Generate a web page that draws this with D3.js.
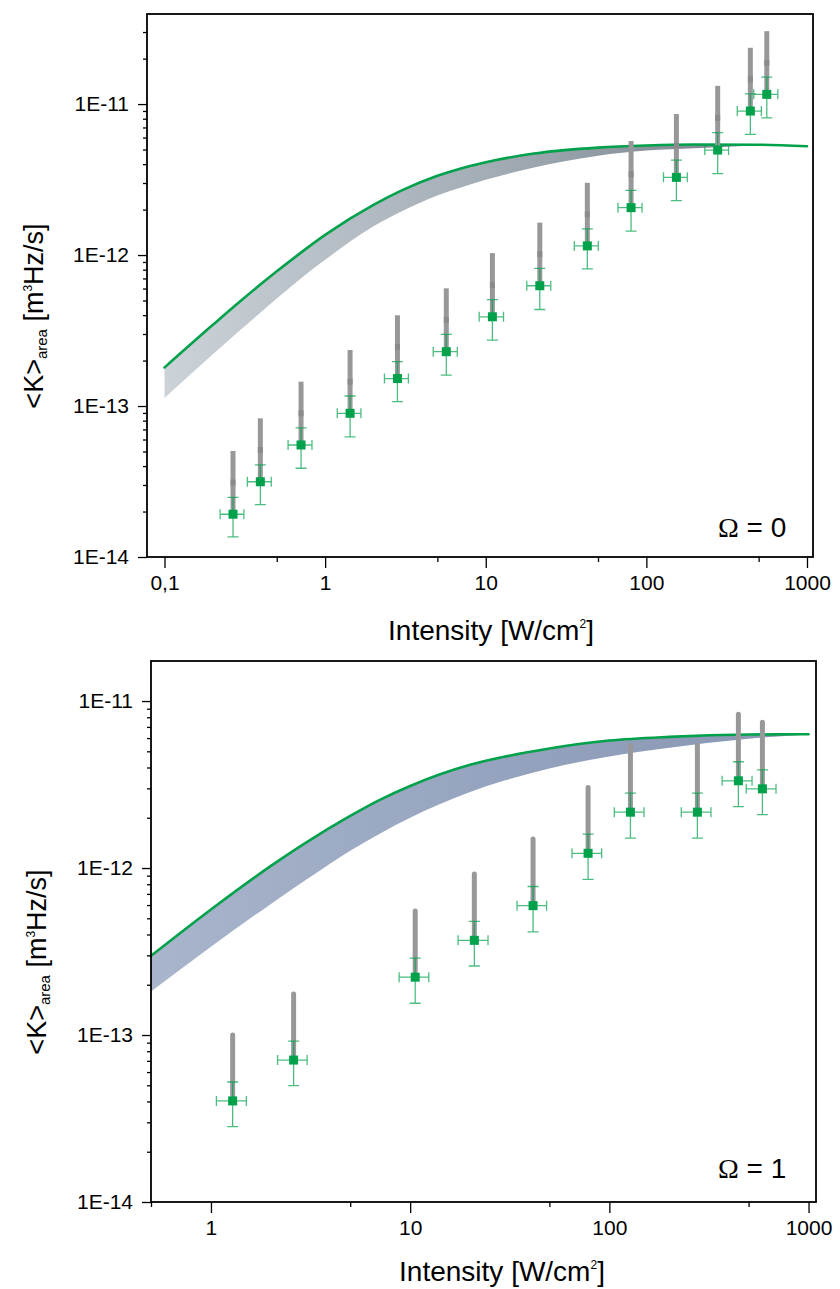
<!DOCTYPE html>
<html>
<head>
<meta charset="utf-8">
<script src="https://cdn.jsdelivr.net/npm/d3@7"></script>
<style>
  body { margin: 0; background: #fff; }
  svg { display: block; }
  text { font-family: "Liberation Sans", Arial, Helvetica, sans-serif; fill: #000; }
</style>
</head>
<body>
<div id="chart"></div>
<script>
// ---- panel 1 (Omega = 0) ----
var topI     = [0.267, 0.395, 0.708, 1.43, 2.82, 5.68, 11.0, 21.7, 42.9, 80.3, 153.8, 278, 444, 562];
var topIerr  = [0.045, 0.067, 0.12, 0.24, 0.48, 0.97, 1.9, 3.7, 7.3, 13.7, 26, 47, 76, 96];
var topK     = [1.92e-14, 3.15e-14, 5.52e-14, 8.95e-14, 1.52e-13, 2.29e-13, 3.90e-13, 6.26e-13, 1.15e-12, 2.06e-12, 3.27e-12, 4.96e-12, 8.99e-12, 1.16e-11];
var topKerr  = [5.6e-15, 9.3e-15, 1.65e-14, 2.7e-14, 4.5e-14, 6.9e-14, 1.17e-13, 1.9e-13, 3.4e-13, 6.2e-13, 9.8e-13, 1.5e-12, 2.7e-12, 3.5e-12];
var topGray  = [5.04e-14, 8.29e-14, 1.45e-13, 2.35e-13, 3.99e-13, 6.02e-13, 1.03e-12, 1.64e-12, 3.01e-12, 5.69e-12, 8.59e-12, 1.32e-11, 2.36e-11, 3.04e-11];
var topCurveI = [0.1, 0.2, 0.3, 0.5, 0.7, 1, 2, 3, 5, 7, 10, 20, 50, 100, 200, 500, 1000];
var topUpper  = [1.80e-13, 3.45e-13, 5.0e-13, 7.8e-13, 1.03e-12, 1.36e-12, 2.15e-12, 2.68e-12, 3.35e-12, 3.75e-12, 4.12e-12, 4.7e-12, 5.15e-12, 5.32e-12, 5.4e-12, 5.38e-12, 5.26e-12];
var topLower  = [1.13e-13, 2.2e-13, 3.22e-13, 5.15e-13, 6.95e-13, 9.3e-13, 1.55e-12, 1.95e-12, 2.48e-12, 2.8e-12, 3.15e-12, 3.8e-12, 4.55e-12, 4.92e-12, 5.1e-12, 5.3e-12, 5.24e-12];
var topXTicks  = [0.1, 1, 10, 100, 1000];
var topXLabels = ["0,1", "1", "10", "100", "1000"];

// ---- panel 2 (Omega = 1) ----
var botI     = [1.285, 2.60, 10.6, 21.0, 41.4, 78.2, 127.6, 276.7, 444.4, 586.6];
var botIerr  = [0.22, 0.44, 1.8, 3.6, 7.0, 13.3, 21.7, 47, 76, 100];
var botK     = [4.03e-14, 7.08e-14, 2.22e-13, 3.69e-13, 5.95e-13, 1.225e-12, 2.16e-12, 2.16e-12, 3.33e-12, 2.98e-12];
var botKerr  = [1.2e-14, 2.1e-14, 6.7e-14, 1.1e-13, 1.8e-13, 3.7e-13, 6.5e-13, 6.5e-13, 1.0e-12, 8.9e-13];
var botGray  = [1.0e-13, 1.76e-13, 5.53e-13, 9.2e-13, 1.49e-12, 3.04e-12, 5.40e-12, 5.45e-12, 8.33e-12, 7.46e-12];
var botCurveI = [0.5, 1, 2, 3, 5, 7, 10, 20, 30, 50, 100, 200, 500, 1000];
var botUpper  = [2.98e-13, 5.65e-13, 1.03e-12, 1.42e-12, 2.05e-12, 2.55e-12, 3.1e-12, 4.15e-12, 4.65e-12, 5.2e-12, 5.8e-12, 6.1e-12, 6.3e-12, 6.33e-12];
var botLower  = [1.82e-13, 3.38e-13, 6.1e-13, 8.5e-13, 1.27e-12, 1.6e-12, 2.0e-12, 2.85e-12, 3.35e-12, 3.95e-12, 4.65e-12, 5.25e-12, 5.95e-12, 6.3e-12];
var botXTicks  = [1, 10, 100, 1000];
var botXLabels = ["1", "10", "100", "1000"];

var yTicks  = [1e-14, 1e-13, 1e-12, 1e-11];
var yLabels = ["1E-14", "1E-13", "1E-12", "1E-11"];

var width = 840, height = 1289,
    green = "#00a14b", grayBar = "#98989a";

var svg = d3.select("#chart").append("svg")
  .attr("width", width)
  .attr("height", height);
var defs = svg.append("defs");

function minorTicks(domain, mult) {
  var out = [];
  for (var e = -16; e <= 4; e++) {
    mult.forEach(function(m) {
      var v = m * Math.pow(10, e);
      if (v >= domain[0] * 0.999 && v <= domain[1] * 1.001) out.push(v);
    });
  }
  return out;
}

function panel(p) {
  var g = svg.append("g");
  var x = d3.scaleLog().domain(p.xDomain).range(p.xRange);
  var y = d3.scaleLog().domain(p.yDomain).range(p.yRange);

  // band gradient
  var grad = defs.append("linearGradient")
    .attr("id", p.id + "-grad")
    .attr("gradientUnits", "userSpaceOnUse")
    .attr("x1", x(p.curveI[0])).attr("x2", x(p.curveI[p.curveI.length - 1]))
    .attr("y1", 0).attr("y2", 0);
  p.bandColors.forEach(function(c, i) {
    grad.append("stop").attr("offset", i / (p.bandColors.length - 1)).attr("stop-color", c);
  });

  var band = d3.area()
    .x(function(d, i) { return x(p.curveI[i]); })
    .y0(function(d, i) { return y(p.lower[i]); })
    .y1(function(d) { return y(d); })
    .curve(d3.curveMonotoneX);
  g.append("path").datum(p.upper)
    .attr("d", band)
    .attr("fill", "url(#" + p.id + "-grad)");

  var line = d3.line()
    .x(function(d, i) { return x(p.curveI[i]); })
    .y(function(d) { return y(d); })
    .curve(d3.curveMonotoneX);
  g.append("path").datum(p.upper)
    .attr("d", line)
    .attr("fill", "none")
    .attr("stroke", green)
    .attr("stroke-width", 2.6)
    .attr("stroke-linecap", "round");

  // gray bars
  var idx = d3.range(p.I.length);
  g.selectAll(".gbar").data(idx).enter().append("line")
    .attr("x1", function(i) { return x(p.I[i]); })
    .attr("x2", function(i) { return x(p.I[i]); })
    .attr("y1", function(i) { return y(p.K[i]); })
    .attr("y2", function(i) { return y(p.gray[i]); })
    .attr("stroke", grayBar)
    .attr("stroke-width", 5)
    .attr("stroke-linecap", p.roundBars ? "round" : "butt");
  if (p.midMarks) {
    g.selectAll(".gmid").data(idx).enter().append("rect")
      .attr("x", function(i) { return x(p.I[i]) - 2.5; })
      .attr("y", function(i) { return (y(p.K[i]) + y(p.gray[i])) / 2 - 3; })
      .attr("width", 5).attr("height", 6)
      .attr("fill", "#8b8b8d");
  }

  // green error bars
  var eb = g.append("g")
    .attr("stroke", green)
    .attr("stroke-opacity", 0.7)
    .attr("stroke-width", 1.3)
    .attr("fill", "none");
  idx.forEach(function(i) {
    var cx = x(p.I[i]), cy = y(p.K[i]),
        yt = y(p.K[i] + p.Kerr[i]), yb = y(p.K[i] - p.Kerr[i]),
        xl = x(p.I[i] - p.Ierr[i]), xr = x(p.I[i] + p.Ierr[i]);
    eb.append("path").attr("d",
      "M" + cx + "," + yt + "V" + yb +
      "M" + (cx - 5.5) + "," + yt + "H" + (cx + 5.5) +
      "M" + (cx - 5.5) + "," + yb + "H" + (cx + 5.5) +
      "M" + xl + "," + cy + "H" + xr +
      "M" + xl + "," + (cy - 5) + "V" + (cy + 5) +
      "M" + xr + "," + (cy - 5) + "V" + (cy + 5));
  });

  g.selectAll(".sq").data(idx).enter().append("rect")
    .attr("x", function(i) { return x(p.I[i]) - 4.5; })
    .attr("y", function(i) { return y(p.K[i]) - 4.5; })
    .attr("width", 9).attr("height", 9)
    .attr("fill", green);

  // axes
  var x0 = p.xRange[0], x1 = p.xRange[1], y0 = p.yRange[0], y1 = p.yRange[1];

  g.append("g").attr("transform", "translate(0," + y0 + ")")
    .call(d3.axisBottom(x).tickValues(minorTicks(p.xDomain, [5])).tickSize(5).tickFormat(""))
    .call(function(a) { a.select(".domain").remove(); });
  g.append("g").attr("transform", "translate(0," + y0 + ")")
    .call(d3.axisBottom(x).tickValues(p.xTicks).tickSize(11).tickPadding(7)
      .tickFormat(function(d, i) { return p.xLabels[i]; }))
    .call(function(a) {
      a.select(".domain").remove();
      a.selectAll("text").attr("font-size", 21).attr("font-family", null);
    });

  g.append("g").attr("transform", "translate(" + x0 + ",0)")
    .call(d3.axisLeft(y).tickValues(minorTicks(p.yDomain, [2, 3, 4, 5, 6, 7, 8, 9])).tickSize(4).tickFormat(""))
    .call(function(a) { a.select(".domain").remove(); });
  g.append("g").attr("transform", "translate(" + x0 + ",0)")
    .call(d3.axisLeft(y).tickValues(yTicks).tickSize(9).tickPadding(9)
      .tickFormat(function(d, i) { return yLabels[i]; }))
    .call(function(a) {
      a.select(".domain").remove();
      a.selectAll("text").attr("font-size", 21).attr("font-family", null);
    });
  g.selectAll(".tick line").attr("stroke", "#000").attr("stroke-width", 1.3);

  g.append("rect")
    .attr("x", x0).attr("y", y1)
    .attr("width", x1 - x0).attr("height", y0 - y1)
    .attr("fill", "none")
    .attr("stroke", "#000")
    .attr("stroke-width", 1.8);

  // x title
  var xt = g.append("text")
    .attr("x", p.xTitle[0]).attr("y", p.xTitle[1])
    .attr("text-anchor", "middle")
    .attr("font-size", 28);
  xt.append("tspan").text("Intensity [W/cm");
  xt.append("tspan").attr("font-size", 12).attr("dy", -12).text("2");
  xt.append("tspan").attr("dy", 12).text("]");

  // y title
  var yt = g.append("text")
    .attr("transform", "translate(" + p.yTitle[0] + "," + p.yTitle[1] + ") rotate(-90)")
    .attr("text-anchor", "middle")
    .attr("font-size", 27);
  yt.append("tspan").text("<K>");
  yt.append("tspan").attr("font-size", 15).attr("dy", 4).text("area");
  yt.append("tspan").attr("dy", -4).text(" [m");
  yt.append("tspan").attr("font-size", 12).attr("dy", -11).text("3");
  yt.append("tspan").attr("dy", 11).text("Hz/s]");

  // omega label
  var om = g.append("text")
    .attr("x", p.omega[0]).attr("y", p.omega[1])
    .attr("font-size", 28);
  om.append("tspan").attr("font-family", "'Liberation Serif', 'Times New Roman', serif").text("\u03A9");
  om.append("tspan").text(" = " + p.omegaText);
}

panel({
  id: "top",
  xDomain: [0.0778, 1090], xRange: [147, 813],
  yDomain: [1e-14, 3.95e-11], yRange: [557, 14],
  I: topI, Ierr: topIerr, K: topK, Kerr: topKerr, gray: topGray,
  curveI: topCurveI, upper: topUpper, lower: topLower,
  bandColors: ["#cbd2d8", "#a3adb5", "#6f7a83"],
  xTicks: topXTicks, xLabels: topXLabels,
  roundBars: false, midMarks: true,
  xTitle: [491, 640], yTitle: [43, 316],
  omega: [718, 537], omegaText: "0"
});

panel({
  id: "bot",
  xDomain: [0.5, 1090], xRange: [151, 816],
  yDomain: [1e-14, 1.737e-11], yRange: [1202, 661],
  I: botI, Ierr: botIerr, K: botK, Kerr: botKerr, gray: botGray,
  curveI: botCurveI, upper: botUpper, lower: botLower,
  bandColors: ["#a8b5cb", "#96a4bf", "#8896b3"],
  xTicks: botXTicks, xLabels: botXLabels,
  roundBars: true, midMarks: false,
  xTitle: [502, 1281], yTitle: [46, 962],
  omega: [718, 1178], omegaText: "1"
});
</script>
</body>
</html>
